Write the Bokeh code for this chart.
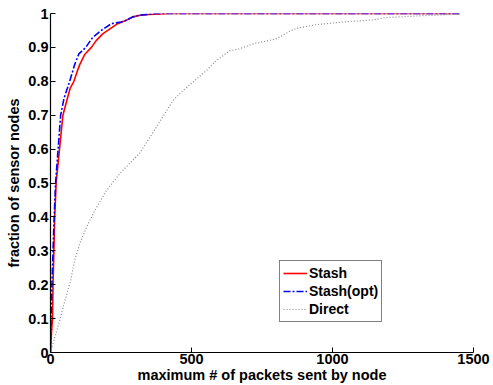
from bokeh.plotting import figure
from bokeh.models import FixedTicker, Legend, LegendItem
from bokeh.embed import file_html
from bokeh.resources import INLINE

# ---- data ----
stash_x = [0, 3, 7, 9, 12, 15, 20, 32, 44, 60, 70, 83, 95, 104, 122, 145, 162, 185,
           203, 238, 269, 292, 317, 350, 423, 1450]
stash_y = [0, 0.05, 0.1, 0.2, 0.3, 0.4, 0.5, 0.6, 0.7, 0.75, 0.78, 0.8, 0.83, 0.85,
           0.88, 0.9, 0.92, 0.94, 0.95, 0.97, 0.98, 0.99, 0.995, 0.997, 1.0, 1.0]

opt_x = [0, 2, 5, 9, 13, 18, 27, 36, 48, 68, 86, 100, 125, 150, 180, 216, 250, 269,
         292, 317, 375, 1450]
opt_y = [0, 0.1, 0.2, 0.3, 0.4, 0.5, 0.6, 0.7, 0.75, 0.8, 0.85, 0.88, 0.9, 0.93,
         0.95, 0.97, 0.975, 0.98, 0.99, 0.995, 1.0, 1.0]

direct_x = [0, 10, 32, 50, 71, 85, 103, 127, 156, 197, 245, 316, 375, 434, 469, 552,
            588, 635, 670, 717, 800, 859, 883, 942, 1025, 1142, 1190, 1261, 1332, 1450]
direct_y = [0, 0.03, 0.092, 0.15, 0.21, 0.27, 0.32, 0.368, 0.417, 0.476, 0.527, 0.588,
            0.664, 0.743, 0.772, 0.831, 0.861, 0.89, 0.896, 0.91, 0.925, 0.952, 0.958,
            0.967, 0.974, 0.981, 0.988, 0.991, 0.994, 0.998]

x_ticks = [0, 500, 1000, 1500]
y_ticks = [0, 0.1, 0.2, 0.3, 0.4, 0.5, 0.6, 0.7, 0.8, 0.9, 1]
y_tick_labels = ["0", "0.1", "0.2", "0.3", "0.4", "0.5", "0.6", "0.7", "0.8", "0.9", "1"]

series_names = ["Stash", "Stash(opt)", "Direct"]

FONT = "Liberation Sans"
FS = "14.5px"

p = figure(width=493, height=385, output_backend="svg", toolbar_location=None,
           x_range=(0, 1500), y_range=(0, 1),
           min_border_left=50, min_border_right=20, min_border_top=13,
           min_border_bottom=33)
p.outline_line_color = None
p.grid.visible = False
p.background_fill_color = "white"
p.border_fill_color = "white"

r1 = p.line(stash_x, stash_y, line_color="#ff0000", line_width=1.6)
r2 = p.line(opt_x, opt_y, line_color="#0000ff", line_width=1.6, line_dash="7 2 2 2")
r3 = p.line(direct_x, direct_y, line_color="#8a8a8a", line_width=1.2, line_dash="1 2")

for ax in (p.xaxis[0], p.yaxis[0]):
    ax.major_tick_in = 5
    ax.major_tick_out = 0
    ax.minor_tick_line_color = None
    ax.axis_line_color = "black"
    ax.axis_line_width = 1.2
    ax.major_tick_line_color = "black"
    ax.major_label_text_font = FONT
    ax.major_label_text_font_style = "bold"
    ax.major_label_text_font_size = FS
    ax.major_label_text_color = "black"
    ax.axis_label_text_font = FONT
    ax.axis_label_text_font_style = "bold"
    ax.axis_label_text_font_size = FS
    ax.axis_label_text_color = "black"

p.xaxis.ticker = FixedTicker(ticks=x_ticks)
p.xaxis.major_label_standoff = 1
p.xaxis.axis_label = "maximum # of packets sent by node"
p.xaxis.axis_label_standoff = 0

p.yaxis.ticker = FixedTicker(ticks=y_ticks)
p.yaxis.major_label_overrides = {t: l for t, l in zip(y_ticks, y_tick_labels)}
p.yaxis.major_label_standoff = 2
p.yaxis.axis_label = "fraction of sensor nodes"
p.yaxis.axis_label_standoff = 3

legend = Legend(items=[LegendItem(label=series_names[0], renderers=[r1]),
                       LegendItem(label=series_names[1], renderers=[r2]),
                       LegendItem(label=series_names[2], renderers=[r3])],
                location=(229, 30))
legend.label_text_font = FONT
legend.label_text_font_style = "bold"
legend.label_text_font_size = "14px"
legend.label_text_color = "black"
legend.glyph_width = 24
legend.glyph_height = 18
legend.label_height = 18
legend.label_standoff = 2
legend.padding = 3
legend.spacing = 0
legend.margin = 0
legend.border_line_color = "black"
legend.border_line_width = 1
legend.background_fill_color = "white"
legend.background_fill_alpha = 1
p.add_layout(legend)

open("out.html", "w").write(file_html(p, INLINE))
